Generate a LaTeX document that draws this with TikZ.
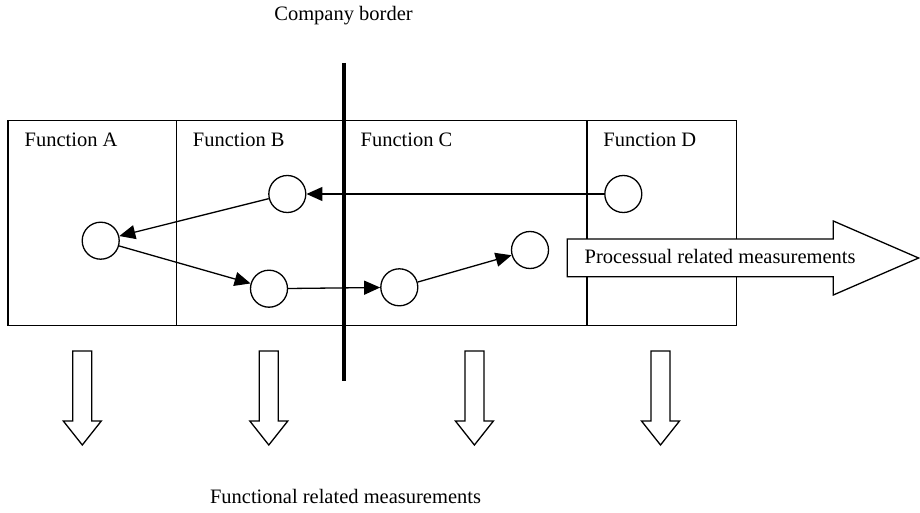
\documentclass[tikz,border=0pt]{standalone}
\usepackage{fontspec}
\setmainfont{Liberation Serif}
\usetikzlibrary{arrows.meta}
\begin{document}
\begin{tikzpicture}[x=1pt,y=-1pt,
  line width=1.3pt,
  txt/.style={font=\fontsize{20.5}{24}\selectfont, inner sep=0pt},
  lbl/.style={txt, anchor=base west},
  fbox/.style={draw, rectangle, inner sep=0pt, anchor=north west, minimum height=205.3pt},
  stepnode/.style={draw, circle, minimum size=37pt, inner sep=0pt, fill=white},
  flow/.style={-{Triangle[length=16pt,width=14pt]}},
  blockarrow/.style={draw, fill=white, line join=miter}
]
\useasboundingbox (0,0) rectangle (920,513);

% function areas
\node[fbox, minimum width=168.4pt] (fa) at (7.3,119.7) {};
\node[fbox, minimum width=167.3pt] (fb) at (175.7,119.7) {};
\node[fbox, minimum width=262pt] (fc) at (343,119.7) {};
\node[fbox, fill=white, minimum width=149.7pt] (fd) at (586.3,119.7) {};

\node[lbl] (la) at (24,147) {Function A};
\node[lbl] (lb) at (192.3,147) {Function B};
\node[lbl] (lc) at (360,147) {Function C};
\node[lbl] (ld) at (602.7,147) {Function D};

% process steps
\node[stepnode] (a)  at (100.7,240.7) {};
\node[stepnode] (b1) at (287.3,194) {};
\node[stepnode] (b2) at (269,288.7) {};
\node[stepnode] (c1) at (399.3,287.3) {};
\node[stepnode] (c2) at (530,250) {};
\node[stepnode] (d)  at (623.3,194) {};

\draw[flow] (d) -- (b1);
\draw[flow] (b1) -- (a);
\draw[flow] (a) -- (b2);
\draw[flow] (b2) -- (c1);
\draw[flow] (c1) -- (c2);

% company border
\node[txt, anchor=base] (cb) at (343.5,21) {Company border};
\coordinate (bt) at (343.7,63);
\coordinate (bb) at (343.7,381);
\draw[line width=4pt] (bt) -- (bb);

% processual measurements arrow
\draw[blockarrow] (567.3,239) -- (833.3,239) -- (833.3,221) -- (918.6,258)
  -- (833.3,295) -- (833.3,276.7) -- (567.3,276.7) -- cycle;
\node[lbl] (pm) at (584,263) {Processual related measurements};

% functional measurements arrows
\foreach \cx in {82.3,268.8,474.4,660.5}{
  \draw[blockarrow] (\cx-9.5,351) -- (\cx+9.5,351) -- (\cx+9.5,421) -- (\cx+19,421)
    -- (\cx,445) -- (\cx-19,421) -- (\cx-9.5,421) -- cycle;
}
\node[txt, anchor=base] (fm) at (345.5,503) {Functional related measurements};
\end{tikzpicture}
\end{document}
